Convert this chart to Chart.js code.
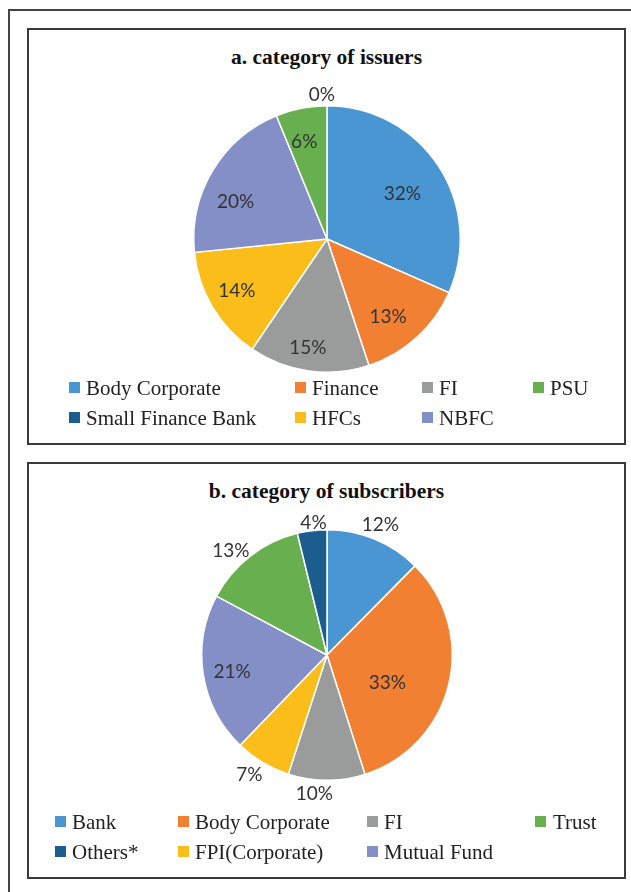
<!DOCTYPE html>
<html>
<head>
<meta charset="utf-8">
<script src="https://cdn.jsdelivr.net/npm/chart.js@4/dist/chart.umd.min.js"></script>
<style>
  html, body { margin: 0; padding: 0; background: #fff; }
  body { width: 631px; height: 892px; position: relative; overflow: hidden; }
  .frame-left { position: absolute; left: 8px; top: 9px; width: 2px; height: 883px; background: #444; }
  .frame-top { position: absolute; left: 8px; top: 9px; width: 623px; height: 2px; background: #444; }
  .box { position: absolute; left: 27px; width: 599px; box-sizing: border-box; border: 2px solid #3a3a3a; }
  .title { position: absolute; left: 27px; width: 599px; text-align: center;
           font: bold 21.5px "Liberation Serif", serif; color: #111; line-height: 24px; }
  canvas { position: absolute; }
  .leg { position: absolute; height: 24px;
         font: 21px "Liberation Serif", serif; color: #222; white-space: nowrap; }
  .leg i { position: absolute; left: 0; top: 6px; width: 11px; height: 11px; }
  .leg span { position: absolute; top: 0; line-height: 24px; }
</style>
</head>
<body>
<div class="frame-left"></div>
<div class="frame-top"></div>

<div class="box" style="top:28px;height:417px"></div>
<div class="title" style="top:45px">a. category of issuers</div>
<canvas id="issuersChart" width="340" height="340" style="left:157px;top:69px"></canvas>
<div id="issuersLegend"></div>

<div class="box" style="top:462px;height:417px"></div>
<div class="title" style="top:479px">b. category of subscribers</div>
<canvas id="subscribersChart" width="340" height="340" style="left:157px;top:485px"></canvas>
<div id="subscribersLegend"></div>

<script>
// === Data ===
const issuerLabels = ['Body Corporate', 'Finance', 'FI', 'HFCs', 'NBFC', 'PSU', 'Small Finance Bank'];
const issuerShares = [31.6, 13.3, 14.6, 13.9, 20.4, 6.2, 0];
const issuerLegendOrder = ['Body Corporate', 'Finance', 'FI', 'PSU', 'Small Finance Bank', 'HFCs', 'NBFC'];

const subscriberLabels = ['Bank', 'Body Corporate', 'FI', 'FPI(Corporate)', 'Mutual Fund', 'Trust', 'Others*'];
const subscriberShares = [12.4, 32.7, 9.9, 7.2, 20.6, 13.4, 3.8];
const subscriberLegendOrder = ['Bank', 'Body Corporate', 'FI', 'Trust', 'Others*', 'FPI(Corporate)', 'Mutual Fund'];

// === Styles ===
const BLUE = '#4a96d2', ORANGE = '#f28033', GRAY = '#9a9c9c', YELLOW = '#fbbd19',
      PURPLE = '#838fc6', GREEN = '#68b04f', NAVY = '#1a5d8e';
const issuerColors = [BLUE, ORANGE, GRAY, YELLOW, PURPLE, GREEN, NAVY];
const subscriberColors = [BLUE, ORANGE, GRAY, YELLOW, PURPLE, GREEN, NAVY];

// label placement per slice: [radius factor, angle shift in degrees]
const issuerLabelPlace = [[0.66, 2], [0.74, 4], [0.83, 2], [0.78, 1], [0.74, -9], [0.75, -2], [1.08, -2]];
const subscriberLabelPlace = [[1.12, 0], [0.53, 11], [1.11, 5], [1.14, 2], [0.77, -1], [1.13, -5], [1.06, 1]];

// legend grid: swatch x, text x per column, row centres
const issuerLegendGrid = { sw: [69, 295, 422, 533], tx: [86, 312, 439, 550], rows: [388, 418] };
const subscriberLegendGrid = { sw: [55, 178, 367, 535], tx: [72, 195, 384, 553], rows: [822, 852] };

// === Percent label plugin ===
const percentLabels = {
  id: 'percentLabels',
  afterDatasetsDraw(chart, args, opts) {
    const ctx = chart.ctx;
    const data = chart.data.datasets[0].data;
    const total = data.reduce((a, b) => a + b, 0);
    const meta = chart.getDatasetMeta(0);
    ctx.save();
    ctx.font = '19px "Liberation Sans Narrow", Lato, sans-serif';
    ctx.fillStyle = '#333333';
    ctx.textAlign = 'center';
    ctx.textBaseline = 'middle';
    meta.data.forEach((arc, i) => {
      const p = arc.getProps(['x', 'y', 'startAngle', 'endAngle', 'outerRadius'], true);
      const place = opts.place[i];
      const mid = (p.startAngle + p.endAngle) / 2 + place[1] * Math.PI / 180;
      const r = p.outerRadius * place[0];
      const pct = Math.round(data[i] / total * 100) + '%';
      ctx.fillText(pct, p.x + Math.cos(mid) * r, p.y + Math.sin(mid) * r);
    });
    ctx.restore();
  }
};

function makePie(id, labels, values, colors, place, pad) {
  return new Chart(document.getElementById(id), {
    type: 'pie',
    data: {
      labels: labels,
      datasets: [{ data: values, backgroundColor: colors, borderColor: '#ffffff', borderWidth: 1.5 }]
    },
    options: {
      responsive: false,
      animation: false,
      layout: { padding: pad },
      plugins: {
        legend: { display: false },
        tooltip: { enabled: false },
        percentLabels: { place: place }
      }
    },
    plugins: [percentLabels]
  });
}

function buildLegend(holderId, order, labels, colors, grid) {
  const holder = document.getElementById(holderId);
  order.forEach((name, k) => {
    const col = k % 4, row = Math.floor(k / 4);
    const item = document.createElement('div');
    item.className = 'leg';
    item.style.left = grid.sw[col] + 'px';
    item.style.top = (grid.rows[row] - 12) + 'px';
    const sw = document.createElement('i');
    sw.style.background = colors[labels.indexOf(name)];
    const txt = document.createElement('span');
    txt.textContent = name;
    txt.style.left = (grid.tx[col] - grid.sw[col]) + 'px';
    item.appendChild(sw);
    item.appendChild(txt);
    holder.appendChild(item);
  });
}

makePie('issuersChart', issuerLabels, issuerShares, issuerColors, issuerLabelPlace, 36);
makePie('subscribersChart', subscriberLabels, subscriberShares, subscriberColors, subscriberLabelPlace, 44);
buildLegend('issuersLegend', issuerLegendOrder, issuerLabels, issuerColors, issuerLegendGrid);
buildLegend('subscribersLegend', subscriberLegendOrder, subscriberLabels, subscriberColors, subscriberLegendGrid);
</script>
</body>
</html>
